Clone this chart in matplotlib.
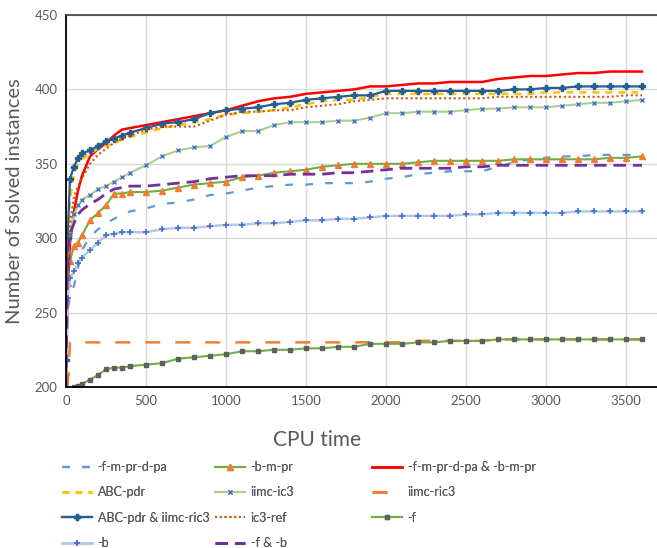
import numpy as np
import matplotlib

matplotlib.use("Agg")
import matplotlib.pyplot as plt  # noqa: E402

plt.rcParams["font.family"] = ["Lato", "DejaVu Sans"]

# CPU time grid (s) shared by all series
TIME = [0, 10, 25, 50, 75, 100, 150, 200, 250, 300, 350, 400,
        500, 600, 700, 800, 900, 1000, 1100, 1200, 1300, 1400, 1500, 1600,
        1700, 1800, 1900, 2000, 2100, 2200, 2300, 2400, 2500, 2600, 2700, 2800,
        2900, 3000, 3100, 3200, 3300, 3400, 3500, 3600]

fmprdpa = [200, 250, 262, 268, 280, 292, 301, 306, 310, 313, 316, 318,
           320, 323, 324, 326, 329, 330, 332, 334, 335, 336, 336, 337,
           337, 337, 338, 340, 341, 343, 344, 345, 345, 345, 348, 351,
           353, 354, 355, 355, 356, 356, 356, 356]
bmpr = [210, 270, 285, 295, 297, 302, 312, 317, 322, 330, 330, 331,
        331, 332, 334, 336, 337, 338, 341, 342, 344, 345, 346, 348,
        349, 350, 350, 350, 350, 351, 352, 352, 352, 352, 352, 353,
        353, 353, 353, 353, 353, 354, 354, 355]
combo_fb = [200, 270, 297, 318, 332, 342, 355, 360, 364, 369, 373, 374,
            376, 378, 380, 382, 384, 386, 389, 392, 394, 395, 397, 398,
            399, 400, 402, 402, 403, 404, 404, 405, 405, 405, 407, 408,
            409, 409, 410, 411, 411, 412, 412, 412]
abc_pdr = [250, 300, 326, 344, 350, 353, 357, 360, 362, 364, 366, 368,
           371, 374, 376, 378, 380, 383, 384, 385, 386, 388, 390, 392,
           393, 393, 395, 397, 397, 397, 397, 397, 397, 397, 397, 397,
           397, 398, 398, 398, 398, 398, 398, 398]
iimc_ic3 = [220, 285, 303, 316, 322, 326, 329, 333, 335, 338, 341, 344,
            349, 355, 359, 361, 362, 368, 372, 372, 376, 378, 378, 378,
            379, 379, 381, 384, 384, 385, 385, 385, 386, 387, 387, 388,
            388, 388, 389, 390, 391, 391, 392, 393]
iimc_ric3 = [np.nan, 200, 230, 230, 230, 230, 230, 230, 230, 230, 230, 230,
             230, 230, 230, 230, 230, 230, 230, 230, 230, 230, 230, 230,
             230, 230, 230, 230, 230, 231, 231, 231, 231, 231, 232, 232,
             232, 232, 232, 232, 232, 232, 232, 232]
combo_abc = [218, 300, 340, 348, 354, 357, 359, 362, 365, 367, 369, 371,
             374, 377, 378, 380, 384, 386, 387, 388, 390, 391, 393, 394,
             395, 396, 396, 399, 399, 399, 399, 399, 399, 399, 399, 400,
             400, 401, 401, 402, 402, 402, 402, 402]
ic3_ref = [230, 285, 310, 328, 335, 340, 350, 356, 360, 364, 367, 369,
           373, 375, 375, 375, 379, 383, 385, 385, 386, 386, 388, 389,
           390, 392, 393, 394, 394, 394, 394, 394, 394, 394, 395, 395,
           395, 395, 395, 395, 395, 395, 396, 396]
f_only = [np.nan, np.nan, np.nan, 200, 201, 202, 205, 208, 212, 213, 213, 214,
          215, 216, 219, 220, 221, 222, 224, 224, 225, 225, 226, 226,
          227, 227, 229, 229, 229, 230, 230, 231, 231, 231, 232, 232,
          232, 232, 232, 232, 232, 232, 232, 232]
b_only = [200, 260, 273, 278, 283, 287, 292, 297, 302, 303, 304, 304,
          304, 306, 307, 307, 308, 309, 309, 310, 310, 311, 312, 312,
          313, 313, 314, 315, 315, 315, 315, 315, 316, 316, 317, 317,
          317, 317, 317, 318, 318, 318, 318, 318]
f_and_b = [200, 290, 303, 310, 316, 319, 323, 326, 330, 333, 334, 335,
           335, 336, 337, 338, 340, 341, 342, 342, 342, 343, 343, 343,
           344, 344, 345, 346, 347, 347, 347, 347, 348, 348, 349, 349,
           349, 349, 349, 349, 349, 349, 349, 349]

W, H = 657, 548
fig = plt.figure(figsize=(W / 100, H / 100), dpi=100)
ax = fig.add_axes([66 / W, 1 - 387 / H, 1 - 66 / W, (387 - 15) / H])

t = np.array(TIME)
lines = {}
lines["-f-m-pr-d-pa"] = ax.plot(t, fmprdpa, color="#5B9BD5", lw=1.6,
                                dashes=(3.5, 5.5))[0]
lines["-b-m-pr"] = ax.plot(t, bmpr, color="#70AD47", lw=1.5, marker="^",
                           ms=4, mfc="#ED7D31", mec="#ED7D31")[0]
lines["-f-m-pr-d-pa & -b-m-pr"] = ax.plot(t, combo_fb, color="#FF0000", lw=1.8)[0]
lines["ABC-pdr"] = ax.plot(t, abc_pdr, color="#FFC000", lw=1.8,
                           dashes=(2.8, 2.4))[0]
lines["iimc-ic3"] = ax.plot(t, iimc_ic3, color="#A9D18E", lw=1.5, marker="x",
                            ms=3.5, mec="#4472C4", mew=1)[0]
lines["iimc-ric3"] = ax.plot(t, iimc_ric3, color="#ED7D31", lw=1.8,
                             dashes=(6, 6))[0]
lines["ABC-pdr & iimc-ric3"] = ax.plot(t, combo_abc, color="#255E91", lw=1.6,
                                       marker="P", ms=4.5)[0]
lines["ic3-ref"] = ax.plot(t, ic3_ref, color="#C55A11", lw=1.5,
                           dashes=(1, 1.3))[0]
lines["-f"] = ax.plot(t, f_only, color="#70AD47", lw=1.5, marker="s", ms=3.5,
                      mfc="#5F5F5F", mec="#5F5F5F")[0]
lines["-b"] = ax.plot(t, b_only, color="#B4C7E7", lw=1.8, marker="+", ms=4.5,
                      mec="#4472C4", mew=1.2)[0]
lines["-f & -b"] = ax.plot(t, f_and_b, color="#7030A0", lw=2.0,
                           dashes=(4.5, 2.5))[0]

ax.set_xlim(0, (W - 66) / 0.16)
ax.set_ylim(200, 450)
ax.set_xticks(np.arange(0, 3501, 500))
ax.set_yticks(np.arange(200, 451, 50))
ax.grid(True, color="#D9D9D9", lw=1)
ax.set_axisbelow(True)
ax.tick_params(length=0, labelsize=9.5, colors="#595959", pad=6)
for side in ("left", "bottom"):
    ax.spines[side].set_color("black")
    ax.spines[side].set_linewidth(1.3)
ax.spines["top"].set_color("#404040")
ax.spines["top"].set_linewidth(1.2)
ax.spines["right"].set_visible(False)

ax.set_ylabel("Number of solved instances", fontsize=14.5, color="#595959",
              labelpad=8)
fig.text(317 / W, 1 - 440 / H, "CPU time", fontsize=15, color="#595959",
         ha="center", va="center")

columns = [
    ["-f-m-pr-d-pa", "ABC-pdr", "ABC-pdr & iimc-ric3", "-b"],
    ["-b-m-pr", "iimc-ic3", "ic3-ref", "-f & -b"],
    ["-f-m-pr-d-pa & -b-m-pr", "iimc-ric3", "-f"],
]
col_x = [62, 215, 372]
for names, x0 in zip(columns, col_x):
    leg = fig.legend([lines[n] for n in names], names, loc="upper left",
                     bbox_to_anchor=(x0 / W, 1 - 461 / H), frameon=False,
                     fontsize=9, handlelength=2.4, handletextpad=0.45,
                     labelspacing=1.07, borderpad=0, borderaxespad=0)
    for txt in leg.get_texts():
        txt.set_color("#595959")
    fig.add_artist(leg)

fig.savefig("out.png", dpi=100)
